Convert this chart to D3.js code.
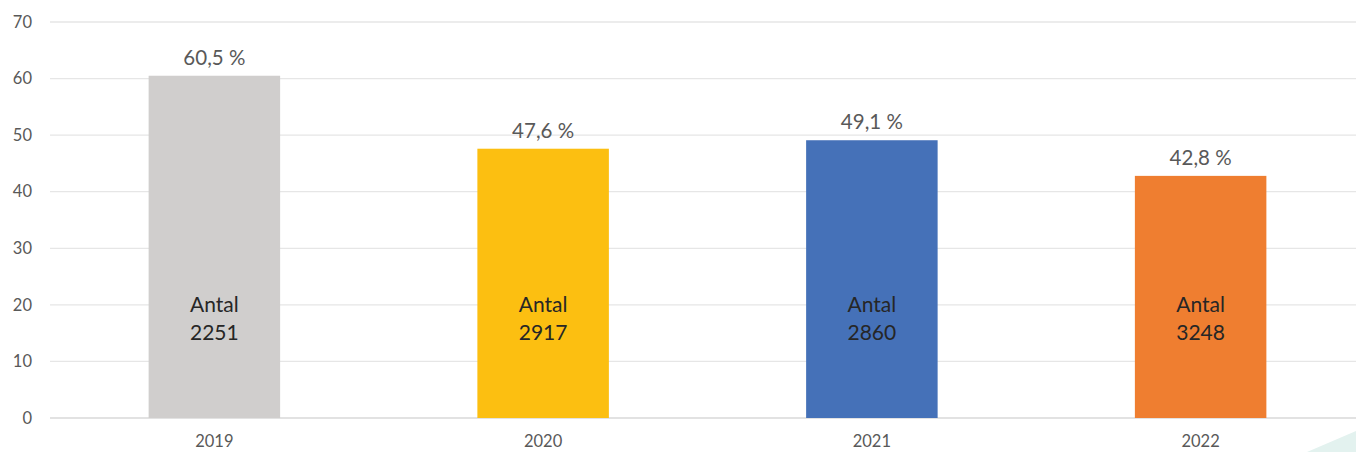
<!DOCTYPE html>
<html>
<head>
<meta charset="utf-8">
<script src="https://cdn.jsdelivr.net/npm/d3@7"></script>
<style>
  body { margin: 0; background: #fff; }
  svg { display: block; font-family: Lato, "Open Sans", sans-serif; }
</style>
</head>
<body>
<svg width="1356" height="452"></svg>
<script>
var years = ["2019", "2020", "2021", "2022"];
var percents = [60.5, 47.6, 49.1, 42.8];
var counts = [2251, 2917, 2860, 3248];
var colors = ["#d0cecd", "#fcbf11", "#4571b8", "#ef7e30"];
var yTicks = [0, 10, 20, 30, 40, 50, 60, 70];

var svg = d3.select('svg');
// note: "top" is reserved on window, so use plot* names
var plotLeft = 50, plotRight = 1365, plotTop = 22, plotBottom = 418;

var x = d3.scaleBand().domain(years).range([plotLeft, plotRight]).paddingInner(0.6).paddingOuter(0.3);
var y = d3.scaleLinear().domain([0, 70]).range([plotBottom, plotTop]);

// gridlines
svg.append('g')
    .selectAll('line')
    .data(yTicks)
    .enter()
    .append('line')
    .attr('x1', plotLeft)
    .attr('x2', 1356)
    .attr('y1', function(d){ return y(d); })
    .attr('y2', function(d){ return y(d); })
    .attr('stroke', function(d){ return d == 0 ? '#d9d9d9' : '#e6e6e6'; })
    .attr('stroke-width', 1.3);

// y labels
var yAxis = svg.append('g')
    .attr('transform', 'translate(32,0)')
    .call(d3.axisLeft(y).tickValues(yTicks).tickSize(0).tickPadding(0));
yAxis.select('.domain').remove();
yAxis.selectAll('text')
    .attr('fill', '#595959')
    .style('font-size', '16.5px')
    .style('font-family', 'Lato, sans-serif');

// x labels
var xAxis = svg.append('g')
    .attr('transform', 'translate(0,' + plotBottom + ')')
    .call(d3.axisBottom(x).tickSize(0).tickPadding(17));
xAxis.select('.domain').remove();
xAxis.selectAll('text')
    .attr('fill', '#595959')
    .style('font-size', '16.5px')
    .style('font-family', 'Lato, sans-serif');

// bars
svg.selectAll('.bar')
    .data(years)
    .enter()
    .append('rect')
    .attr('class', 'bar')
    .attr('x', function(d){ return x(d); })
    .attr('width', x.bandwidth())
    .attr('y', function(d, i){ return y(percents[i]); })
    .attr('height', function(d, i){ return y(0) - y(percents[i]); })
    .attr('fill', function(d, i){ return colors[i]; });

// value labels above bars
svg.selectAll('.val')
    .data(years)
    .enter()
    .append('text')
    .attr('class', 'val')
    .attr('x', function(d){ return x(d) + x.bandwidth() / 2; })
    .attr('y', function(d, i){ return y(percents[i]) - 11; })
    .attr('text-anchor', 'middle')
    .attr('fill', '#595959')
    .style('font-size', '20.5px')
    .text(function(d, i){ return String(percents[i]).replace('.', ',') + ' %'; });

// "Antal" labels inside bars
var inner = svg.selectAll('.inner')
    .data(years)
    .enter()
    .append('text')
    .attr('class', 'inner')
    .attr('text-anchor', 'middle')
    .attr('fill', '#262626')
    .style('font-size', '21px');
inner.append('tspan')
    .attr('x', function(d){ return x(d) + x.bandwidth() / 2; })
    .attr('y', y(20) + 7)
    .text('Antal');
inner.append('tspan')
    .attr('x', function(d){ return x(d) + x.bandwidth() / 2; })
    .attr('dy', 28)
    .text(function(d, i){ return counts[i]; });

// decorative corner
svg.append('path')
    .attr('d', 'M1307,452 L1356,431 L1356,452 Z')
    .attr('fill', '#e3f2ef');
</script>
</body>
</html>
